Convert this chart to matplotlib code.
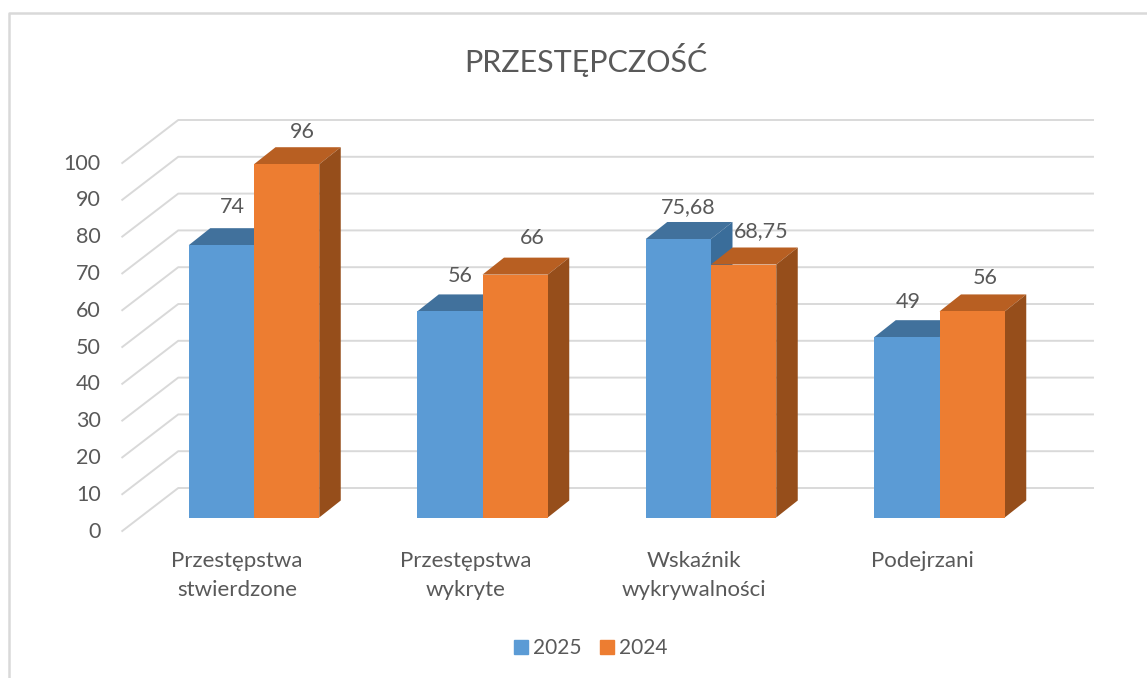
import numpy as np
import matplotlib
matplotlib.use("Agg")
import matplotlib.pyplot as plt
from matplotlib.patches import Patch
from matplotlib.transforms import ScaledTranslation

categories = ["Przestępstwa\nstwierdzone", "Przestępstwa\nwykryte",
              "Wskaźnik\nwykrywalności", "Podejrzani"]
values_2025 = [74, 56, 75.68, 49]
values_2024 = [96, 66, 68.75, 56]
labels_2025 = ["74", "56", "75,68", "49"]
labels_2024 = ["96", "66", "68,75", "56"]
yticks = list(range(0, 101, 10))

W, H = 1147, 678
plt.rcParams['font.family'] = ['Lato', 'DejaVu Sans']
TEXT = "#595959"
GRID = "#d9d9d9"

fig = plt.figure(figsize=(W / 100, H / 100), dpi=100)
# axes sit on the front plane of the bars
left, right, base, top = 139.75, 1053.75, 517.5, 149.5
ax = fig.add_axes([left / W, 1 - base / H, (right - left) / W, (base - top) / H])
ax.set_xlim(-0.5, 3.5)
ax.set_ylim(0, 100)
ax.patch.set_visible(False)
for s in ax.spines.values():
    s.set_visible(False)

# pixels to data units
px = 4 / (right - left)
py = 100 / (base - top)

# walls of the 3d box
for t in yticks:
    ax.plot([-0.5 - 17.5 * px, -0.5 + 38.5 * px, 3.5 + 39.25 * px],
            [t - 13.5 * py, t + 29.5 * py, t + 29.5 * py],
            color=GRID, lw=1.4, zorder=1, clip_on=False)

bar_w = 65.25 * px
depth_x, depth_y = 21.5 * px, 17 * py


def bar3d(xs, vals, front, roof, side, z):
    ax.bar(xs, vals, width=bar_w, color=front, zorder=z + 0.2)
    for x, v in zip(xs, vals):
        x0, x1 = x - bar_w / 2, x + bar_w / 2
        ax.fill([x0, x1, x1 + depth_x, x0 + depth_x],
                [v, v, v + depth_y, v + depth_y], color=roof, lw=0, zorder=z, clip_on=False)
        ax.fill([x1, x1 + depth_x, x1 + depth_x, x1],
                [0, depth_y, v + depth_y, v], color=side, lw=0, zorder=z, clip_on=False)


x = np.arange(len(categories))
bar3d(x - bar_w / 2, values_2025, "#5b9bd5", "#41719c", "#3a6d9a", 2)
bar3d(x + bar_w / 2, values_2024, "#ed7d31", "#b85f22", "#964e1b", 3)

# data labels, nudged off the bar centre like the original
nudge_2025 = [(11, 38), (10.5, 35), (10, 32), (1.5, 35)]
nudge_2024 = [(16, 32), (17.5, 37), (18, 33), (13.5, 33)]
for xs, vals, labs, nudge in [(x - bar_w / 2, values_2025, labels_2025, nudge_2025),
                              (x + bar_w / 2, values_2024, labels_2024, nudge_2024)]:
    for xi, v, lab, n in zip(xs, vals, labs, nudge):
        ax.annotate(lab, (xi, v), xytext=n, textcoords="offset pixels", ha="center", va="center",
                    fontsize=15.5, color=TEXT, zorder=6, annotation_clip=False)

# axis text
ax.set_xticks(x)
ax.set_xticklabels(categories, linespacing=1.58)
ax.set_yticks(yticks)
ax.tick_params(axis="both", length=0, labelsize=15.5, labelcolor=TEXT)
ax.tick_params(axis="x", labelsize=16, pad=24)
ax.tick_params(axis="y", pad=28)
shift_x = ScaledTranslation(-17 / 100, 0, fig.dpi_scale_trans)
for lab in ax.get_xticklabels():
    lab.set_transform(lab.get_transform() + shift_x)
shift_y = ScaledTranslation(0, -12 / 100, fig.dpi_scale_trans)
for lab in ax.get_yticklabels():
    lab.set_transform(lab.get_transform() + shift_y)

fig.text(586 / W, 1 - 60 / H, "PRZESTĘPCZOŚĆ", ha="center", va="center", fontsize=22, color=TEXT)

handles = [Patch(color="#5b9bd5", label="2025"), Patch(color="#ed7d31", label="2024")]
fig.legend(handles=handles, loc="center", bbox_to_anchor=(591 / W, 1 - 648 / H), ncol=2, frameon=False,
           fontsize=15, labelcolor=TEXT, handlelength=0.65, handleheight=0.65,
           handletextpad=0.25, columnspacing=0.9)

# chart frame, cut off on the right and bottom of the screenshot
fig.add_artist(plt.Line2D([9 / W, 9 / W, 1], [0, 1 - 13 / H, 1 - 13 / H],
                          color="#d9d9d9", lw=1.8))

fig.savefig("out.png", dpi=100)
